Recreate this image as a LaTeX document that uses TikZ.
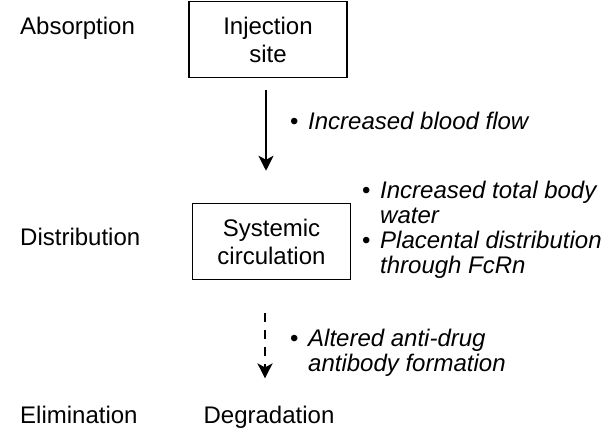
\documentclass[tikz,border=0pt]{standalone}
\usepackage{fontspec}
\setmainfont{Liberation Sans}
\usetikzlibrary{arrows.meta,calc}
\begin{document}
\begin{tikzpicture}[x=1pt,y=-1pt,
  every node/.style={inner sep=0pt,font=\fontsize{24}{28}\selectfont},
  stage/.style={anchor=base west},
  boxnode/.style={draw,line width=1.5pt,minimum width=158pt,minimum height=76pt,align=center},
  note/.style={anchor=base west,align=left,font=\fontsize{24}{25}\selectfont\itshape},
  flow/.style={line width=2pt,-{Stealth[length=15pt,width=15pt,inset=4pt]}},
  weakflow/.style={flow,dash pattern=on 8.5pt off 8.5pt}]
\useasboundingbox (0,0) rectangle (611,441);
\newcommand{\bul}{\makebox[18pt][l]{\upshape\textbullet}}
\node[stage] (abs) at (20,35) {Absorption};
\node[stage] (dis) at (20,246) {Distribution};
\node[stage] (eli) at (20,423) {Elimination};
\node[boxnode] (inj) at (268,39.5) {Injection\\site};
\node[boxnode] (sys) at (271.5,241.5) {Systemic\\circulation};
\node[anchor=base] (deg) at (269,423) {Degradation};
\node[note] (n1) at (290,130) {\bul Increased blood flow};
\node[note] (n2) at (362,224) {\bul Increased total body\\\hspace*{18pt}water};
\node[note] (n3) at (362,273) {\bul Placental distribution\\\hspace*{18pt}through FcRn};
\node[note] (n4) at (290,371) {\bul Altered anti-drug\\\hspace*{18pt}antibody formation};
\draw[flow,shorten <=12pt,shorten >=32pt] ($(inj.south)+(-2,0)$) -- ($(inj.south |- sys.north)+(-2,0)$);
\draw[weakflow,shorten <=33pt,shorten >=27pt] ($(sys.south)+(-6.5,0)$) -- ($(sys.south |- deg.north)+(-6.5,0)$);
\end{tikzpicture}
\end{document}
